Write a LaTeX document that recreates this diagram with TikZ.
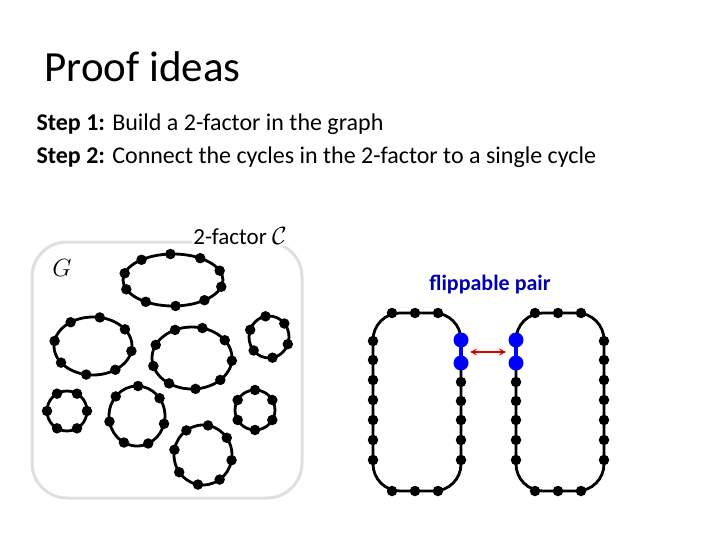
\documentclass[tikz,border=0pt]{standalone}
\usepackage{fontspec}
\setmainfont{Carlito}
\begin{document}
\begin{tikzpicture}[x=1pt,y=-1pt,
  dot/.style={circle,fill=black,inner sep=0pt,minimum size=10.5pt},
  bdot/.style={circle,fill=blue,inner sep=0pt,minimum size=15pt},
  edge/.style={line width=2.8pt}]
\useasboundingbox (0,0) rectangle (720,540);
\node[anchor=west,font=\fontsize{43}{48}\selectfont] (title) at (41,67) {Proof ideas};
\node[anchor=west,font=\fontsize{24}{28}\selectfont] (s1) at (33,124) {\textbf{Step 1:} Build a 2-factor in the graph};
\node[anchor=west,font=\fontsize{24}{28}\selectfont] (s2) at (33,157) {\textbf{Step 2:} Connect the cycles in the 2-factor to a single cycle};
\draw[line width=3pt,gray!25,rounded corners=35] (32,242) rectangle (302,498);
\node[font=\fontsize{24}{28}\selectfont] (G) at (62,268) {$G$};
\node[fill=white,inner sep=1pt,font=\fontsize{23}{26}\selectfont] (fac) at (240,236) {2-factor $\mathcal{C}$};
\foreach \cx/\cy/\rx/\ry/\n/\o [count=\k] in {173/280/50/26/10/15, 93/346/39/29/8/10, 192/358/40/31/9/5,
  269/337/20/21/6/20, 67/411/20/20/6/0, 137/416/28/30/7/15, 255/410/20/20/6/30, 203/455/29/30/8/10}{
  \draw[edge] (\cx,\cy) ellipse [x radius=\rx, y radius=\ry];
  \foreach \i in {1,...,\n}{
    \node[dot] (c\k-\i) at ({\cx+\rx*cos(\o+360*\i/\n)},{\cy+\ry*sin(\o+360*\i/\n)}) {};
  }
}
% right cycles
\draw[edge,rounded corners=27] (461,363) -- (461,491) -- (373,491) -- (373,313) -- (461,313) -- (461,340);
\draw[edge,rounded corners=27] (516,363) -- (516,491) -- (604,491) -- (604,313) -- (516,313) -- (516,340);
\draw[line width=3.5pt,blue] (461,340) -- (461,363) (516,340) -- (516,363);
\foreach \y [count=\i] in {341,360,380,400,420,440,460}{
  \node[dot] (la\i) at (373,\y) {};
  \node[dot] (rb\i) at (604,\y) {};
}
\foreach \y [count=\i] in {382,401,420,440,460}{
  \node[dot] (lb\i) at (461,\y) {};
  \node[dot] (ra\i) at (516,\y) {};
}
\foreach \x [count=\i] in {392,415,438}{
  \node[dot] (lt\i) at (\x,313) {};
  \node[dot] (lbo\i) at (\x,491) {};
}
\foreach \x [count=\i] in {535,558,581}{
  \node[dot] (rt\i) at (\x,313) {};
  \node[dot] (rbo\i) at (\x,491) {};
}
\node[bdot] (p1) at (461,340) {};
\node[bdot] (p2) at (461,363) {};
\node[bdot] (q1) at (516,340) {};
\node[bdot] (q2) at (516,363) {};
\coordinate (a1) at (470,352);
\coordinate (a2) at (506,352);
\draw[red!85!black,line width=2pt,<->,>=stealth] (a1) -- (a2);
\node[font=\bfseries\fontsize{22}{26}\selectfont,text=blue!70!black] (fp) at (490,285) {flippable pair};
\end{tikzpicture}
\end{document}
